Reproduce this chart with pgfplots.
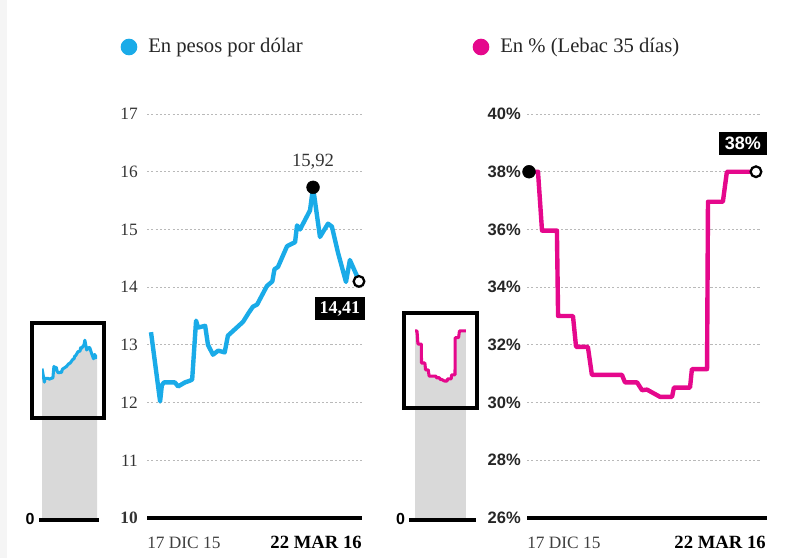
\documentclass[border=0pt]{standalone}
\usepackage{pgfplots}
\pgfplotsset{compat=1.18}
\usepackage{pgfplotstable}
\usepackage{fontspec}
\setmainfont{Liberation Serif}
\newfontfamily\sansfont{Liberation Sans}

\definecolor{dolar}{HTML}{1AABE8}
\definecolor{lebac}{HTML}{E5088C}
\definecolor{thumb}{HTML}{D9D9D9}

% day 0 = 17 dic 15, day 96 = 22 mar 16
\pgfplotstableread{
day val
0 13.22
4.2 12.02
5.0 12.30
6.0 12.35
11.0 12.35
12.5 12.28
15.7 12.35
18.0 12.38
19.0 12.40
20.8 13.42
21.7 13.30
25.0 13.33
26.3 13.00
28.6 12.83
31.0 12.90
34.0 12.87
35.5 13.16
42.5 13.40
45.0 13.55
47.0 13.66
49.0 13.70
53.5 14.02
56.0 14.10
57.0 14.31
58.6 14.35
62.8 14.71
66.5 14.78
67.4 15.07
68.8 15.00
73.4 15.33
74.8 15.73
78.0 14.87
81.7 15.10
83.5 15.05
86.3 14.60
90.0 14.09
91.8 14.47
95.0 14.20
96.0 14.10
}\dolartable

\pgfplotstableread{
day val
0 38.00
3.8 38.00
5.5 35.96
11.8 35.96
12.3 33.00
18.6 33.00
19.9 31.93
24.9 31.93
26.6 30.96
39.3 30.96
40.6 30.70
45.7 30.70
47.8 30.43
49.9 30.45
55.4 30.20
60.5 30.20
61.3 30.52
68.1 30.52
68.9 31.16
75.3 31.16
75.7 36.96
82.0 36.96
83.7 38.00
96.0 38.00
}\lebactable

\newcommand\tickfont{\fontsize{13}{15}\selectfont}

\pgfplotsset{
  panel/.style={
    scale only axis, height=303pt, anchor=south west,
    ymajorgrids,
    grid style={gray!55, line width=0.6pt, dash pattern=on 1.6pt off 1.6pt},
    axis line style={draw=none}, major tick length=0pt,
    xtick=\empty, clip=false,
    yticklabel style={anchor=east, inner sep=0pt},
  },
  thumbaxis/.style={scale only axis, hide axis, anchor=south west},
}

\begin{document}
\begin{tikzpicture}
\path[use as bounding box] (0,0) rectangle (597.75pt,418.5pt);
\fill[gray!8] (0,0) rectangle (5.25pt,418.5pt);

% titles
\node[circle, fill=dolar, minimum size=12.5pt, inner sep=0] at (96.75pt,383.25pt) {};
\node[anchor=base west, inner sep=0, font=\fontsize{15.5}{18}\selectfont, text=black!85]
  at (111pt,378.75pt) {En pesos por dólar};
\node[circle, fill=lebac, minimum size=12.5pt, inner sep=0] at (360.75pt,383.25pt) {};
\node[anchor=base west, inner sep=0, font=\fontsize{15.5}{18}\selectfont, text=black!85]
  at (375pt,378.75pt) {En \% (Lebac 35 días)};

% left thumbnail
\begin{axis}[thumbaxis, at={(31.5pt,30pt)}, width=41.25pt, height=144.1pt,
  xmin=0, xmax=96, ymin=0, ymax=17]
\addplot[fill=thumb, draw=none] table {\dolartable} \closedcycle;
\addplot[dolar, line width=2.3pt, line join=round] table {\dolartable};
\end{axis}
\draw[line width=2.3pt] (24pt,176.25pt) rectangle (78pt,105pt);
\draw[line width=2.6pt] (29.25pt,28.5pt) -- (74.25pt,28.5pt);
\node[anchor=base east, inner sep=0, font=\sansfont\bfseries\fontsize{12}{14}\selectfont]
  at (26pt,25.5pt) {0};

% left main panel
\begin{axis}[panel, at={(110.25pt,30pt)}, width=161.25pt,
  xmin=-1.85, xmax=97.4, ymin=10, ymax=17,
  ytick={10,11,...,17},
  yticklabels={\textbf{10},11,12,13,14,15,16,17},
  yticklabel style={font=\tickfont, xshift=-6.75pt, text=black!80}]
\draw[line width=3.6pt] (rel axis cs:0,0) -- (rel axis cs:1,0);
\addplot[dolar, line width=3.3pt, line join=round] table {\dolartable};
\addplot[only marks, mark=*, mark size=4.8pt, black] coordinates {(74.8,15.73)};
\node[font=\fontsize{14}{16}\selectfont, text=black!80] at (axis cs:74.8,16.17) {15,92};
\fill (axis cs:96,14.1) ++(0,-3pt) -- ++(-3.5pt,-8.5pt) -- ++(7pt,0) -- cycle;
\addplot[only marks, mark=*, mark size=4pt,
  mark options={fill=white, draw=black, line width=1.7pt}] coordinates {(96,14.1)};
\node[fill=black, text=white, font=\bfseries\fontsize{13.5}{15}\selectfont,
  minimum width=37.5pt, minimum height=17.25pt, inner sep=0]
  at (axis cs:87.2,13.63) {14,41};
\node[anchor=base west, inner sep=0, font=\tickfont, text=black!75]
  at (rel axis cs:0,0) [yshift=-22.5pt] {17 DIC 15};
\node[anchor=base east, inner sep=0, font=\bfseries\fontsize{14}{16}\selectfont]
  at (rel axis cs:1,0) [yshift=-22.5pt] {22 MAR 16};
\end{axis}

% right thumbnail
\begin{axis}[thumbaxis, at={(311.25pt,30pt)}, width=38.25pt, height=149.9pt,
  xmin=0, xmax=96, ymin=8.83, ymax=40]
\addplot[fill=thumb, draw=none] table {\lebactable} \closedcycle;
\addplot[lebac, line width=2.3pt, line join=round] table {\lebactable};
\end{axis}
\draw[line width=2.3pt] (303pt,183.75pt) rectangle (357.75pt,112.5pt);
\draw[line width=2.6pt] (306.75pt,28.5pt) -- (357pt,28.5pt);
\node[anchor=base east, inner sep=0, font=\sansfont\bfseries\fontsize{12}{14}\selectfont]
  at (304pt,25.5pt) {0};

% right main panel
\begin{axis}[panel, at={(395.25pt,30pt)}, width=174.75pt,
  xmin=-0.85, xmax=97.7, ymin=26, ymax=40,
  ytick={26,28,...,40},
  yticklabels={26\%,28\%,30\%,32\%,34\%,36\%,38\%,40\%},
  yticklabel style={font=\sansfont\bfseries\fontsize{12.4}{14}\selectfont, xshift=-4.5pt, text=black!85}]
\draw[line width=3.6pt] (rel axis cs:0,0) -- (rel axis cs:1.03,0);
\addplot[lebac, line width=3.3pt, line join=round] table {\lebactable};
\addplot[only marks, mark=*, mark size=4.8pt, black] coordinates {(0,38)};
\fill (axis cs:96,38) ++(0,3pt) -- ++(-3.5pt,10.5pt) -- ++(7pt,0) -- cycle;
\addplot[only marks, mark=*, mark size=4pt,
  mark options={fill=white, draw=black, line width=1.7pt}] coordinates {(96,38)};
\node[fill=black, text=white, font=\sansfont\bfseries\fontsize{13.5}{15}\selectfont,
  minimum width=36pt, minimum height=17.25pt, inner sep=0]
  at (axis cs:90.5,38.98) {38\%};
\node[anchor=base west, inner sep=0, font=\tickfont, text=black!75]
  at (rel axis cs:0,0) [yshift=-22.5pt] {17 DIC 15};
\node[anchor=base east, inner sep=0, font=\bfseries\fontsize{14}{16}\selectfont]
  at (rel axis cs:1,0) [xshift=4.5pt, yshift=-22.5pt] {22 MAR 16};
\end{axis}
\end{tikzpicture}
\end{document}
